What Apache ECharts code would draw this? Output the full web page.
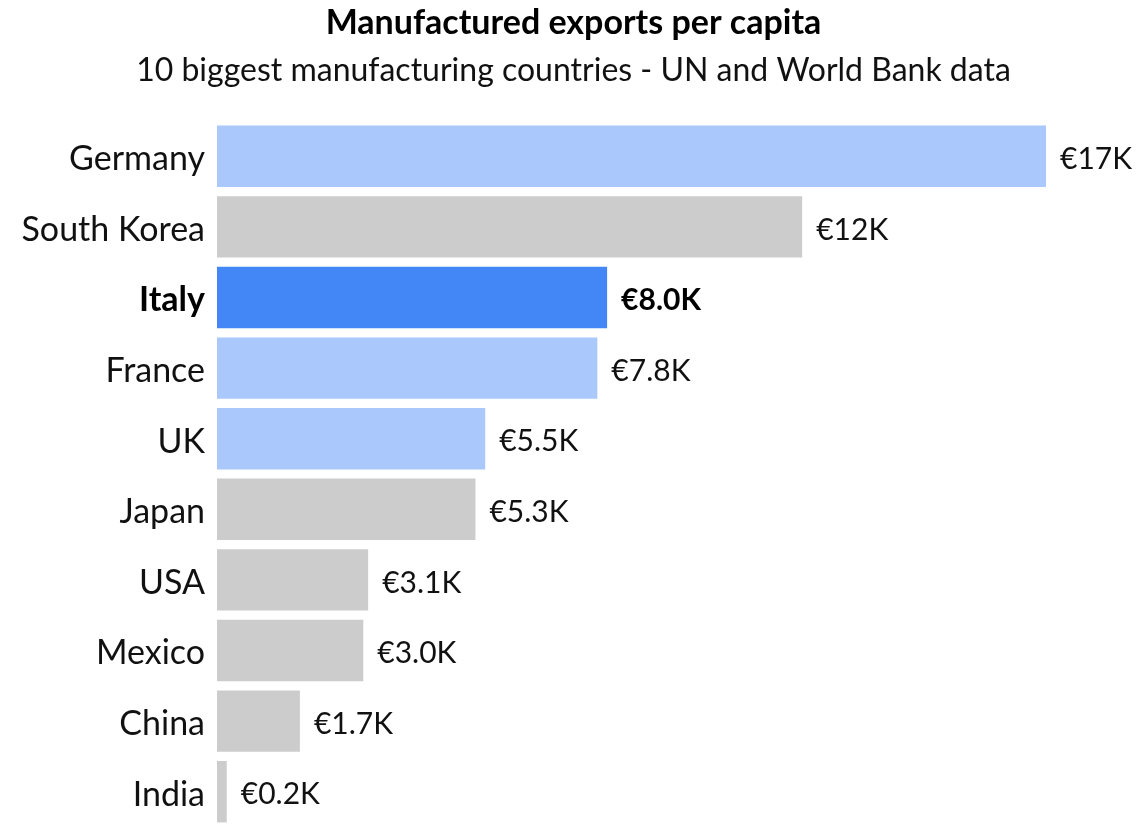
<!DOCTYPE html>
<html>
<head>
<meta charset="utf-8">
<script src="https://cdn.jsdelivr.net/npm/echarts@6/dist/echarts.min.js"></script>
<style>
  html, body { margin: 0; padding: 0; background: #ffffff; }
  #chart { width: 1147px; height: 827px; }
</style>
</head>
<body>
<div id="chart"></div>
<script>
// Manufactured exports per capita, thousands of euros
const countries = ['Germany', 'South Korea', 'Italy', 'France', 'UK', 'Japan', 'USA', 'Mexico', 'China', 'India'];
const exportsPerCapitaK = [17, 12, 8.0, 7.8, 5.5, 5.3, 3.1, 3.0, 1.7, 0.2];
const highlighted = 'Italy';
const peers = ['Germany', 'France', 'UK'];

const FONT = 'Lato';
const colorFor = (name) => name === highlighted ? '#4287f5' : (peers.includes(name) ? '#aac8fc' : '#cccccc');
const fmt = (v) => '€' + (v >= 10 ? v.toFixed(0) : v.toFixed(1)) + 'K';

const chart = echarts.init(document.getElementById('chart'), null, { renderer: 'canvas' });

chart.setOption({
  animation: false,
  backgroundColor: '#ffffff',
  textStyle: { fontFamily: FONT },
  title: {
    text: 'Manufactured exports per capita',
    subtext: '10 biggest manufacturing countries - UN and World Bank data',
    left: 'center',
    top: 1,
    itemGap: 15,
    textStyle: { fontFamily: FONT, fontSize: 34, fontWeight: 'bold', color: '#000000' },
    subtextStyle: { fontFamily: FONT, fontSize: 32, color: '#111111' }
  },
  grid: { left: 217, right: 101, top: 121, bottom: -6, containLabel: false },
  xAxis: {
    type: 'value',
    min: 0,
    max: 17,
    show: false
  },
  yAxis: {
    type: 'category',
    inverse: true,
    data: countries,
    axisLine: { show: false },
    axisTick: { show: false },
    splitLine: { show: false },
    axisLabel: {
      margin: 12,
      padding: [6, 0, 0, 0],
      fontFamily: FONT,
      fontSize: 34,
      color: '#111111',
      formatter: (name) => name === highlighted ? '{b|' + name + '}' : name,
      rich: { b: { fontFamily: FONT, fontSize: 34, fontWeight: 'bold', color: '#000000' } }
    }
  },
  series: [{
    type: 'bar',
    barCategoryGap: '13%',
    data: countries.map((name, i) => ({
      value: exportsPerCapitaK[i],
      itemStyle: { color: colorFor(name) },
      label: name === highlighted ? { fontWeight: 'bold', color: '#000000' } : undefined
    })),
    label: {
      show: true,
      position: 'right',
      distance: 14,
      offset: [0, 3],
      fontFamily: FONT,
      fontSize: 30,
      color: '#111111',
      formatter: (p) => fmt(p.value)
    }
  }]
});
</script>
</body>
</html>
